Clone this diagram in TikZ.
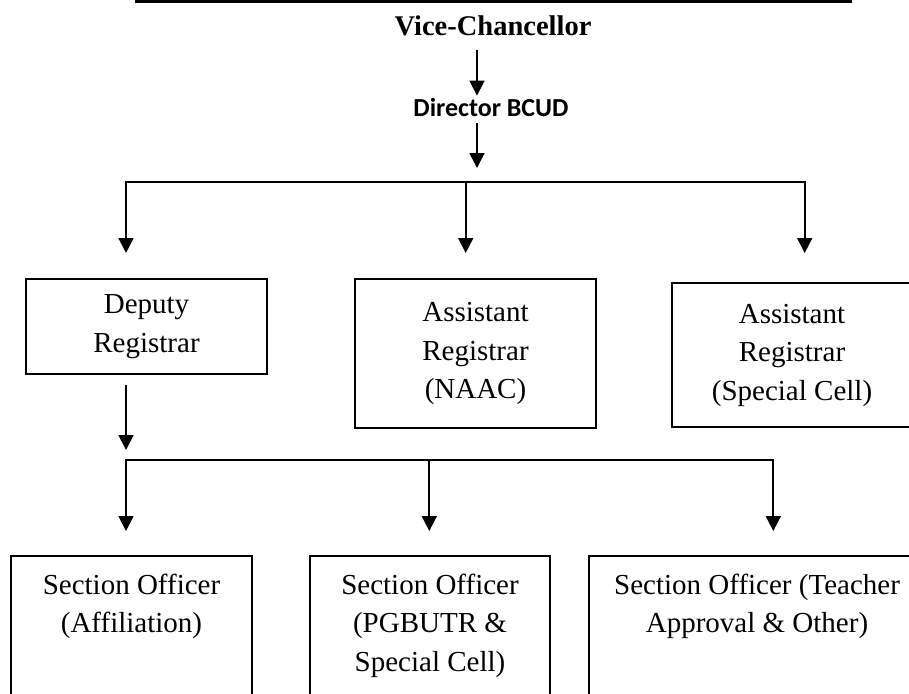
\documentclass[tikz,border=0pt]{standalone}
\usepackage{fontspec}
\setmainfont{Liberation Serif}
\newfontfamily\carl{Carlito}
\usetikzlibrary{arrows.meta,calc}
\begin{document}
\begin{tikzpicture}[x=1pt,y=-1pt,
  arr/.style={-{Triangle[width=15pt,length=15pt]}, line width=1.7pt},
  bus/.style={line width=1.7pt},
  box/.style={draw, line width=2pt, inner sep=0pt, align=center,
    font=\fontsize{29}{38.5}\selectfont},
  txt/.style={align=center, inner sep=0pt, font=\fontsize{29}{38.5}\selectfont},
]
\useasboundingbox (0,0) rectangle (909,693);
\clip (0,0) rectangle (909,693);

% top rule
\coordinate (ruleL) at (135,1.5);
\coordinate (ruleR) at (852,1.5);
\draw[line width=2.6pt] (ruleL) -- (ruleR);

% titles
\node[inner sep=0pt, anchor=base, font=\bfseries\fontsize{28.5}{34}\selectfont] (vc) at (493,36) {Vice-Chancellor};
\node[inner sep=0pt, anchor=base, font=\carl\bfseries\fontsize{26}{30}\selectfont] (dir) at (491,116) {Director BCUD};

\coordinate (ax) at (477,0);
\coordinate (dirTip) at (477,168);
\draw[arr] ($(vc.south -| ax)+(0,13)$) -- ($(dir.north -| ax)+(0,-2)$);
\draw[arr] ($(dir.south -| ax)+(0,7)$) -- (dirTip);

% upper bus
\coordinate (busL) at (126,182);
\coordinate (busM) at (465.7,182);
\coordinate (busR) at (804.7,182);
\coordinate (tipL) at (126,253);
\coordinate (tipM) at (465.7,253);
\coordinate (tipR) at (804.7,253);
\draw[arr] (busM) -- (busL) -- (tipL);
\draw[arr] (busM) -- (busR) -- (tipR);
\draw[arr] (busM) -- (tipM);

% second-level boxes
\node[box, minimum width=241pt, minimum height=95pt, anchor=north west] (dr) at (25,278) {Deputy\\Registrar};
\node[box, minimum width=241pt, minimum height=149pt, anchor=north west] (naac) at (354,278) {Assistant\\Registrar\\(NAAC)};
\node[box, minimum width=240pt, minimum height=144pt, anchor=north west] (sc) at (671,282) {Assistant\\Registrar\\(Special Cell)};

% deputy to lower bus
\coordinate (lbusL) at (126,460);
\coordinate (lbusM) at (429.3,460);
\coordinate (lbusR) at (773.3,460);
\coordinate (drTip) at (126,450);
\coordinate (ltipL) at (126,531);
\coordinate (ltipM) at (429.3,531);
\coordinate (ltipR) at (773.3,531);
\draw[arr] ($(dr.south -| lbusL)+(0,10)$) -- (drTip);
\draw[arr] (lbusM) -- (lbusL) -- (ltipL);
\draw[arr] (lbusM) -- (lbusR) -- (ltipR);
\draw[arr] (lbusM) -- (ltipM);

% bottom boxes
\node[box, minimum width=241pt, minimum height=180pt, anchor=north west] (so1) at (10,555) {};
\node[box, minimum width=240pt, minimum height=180pt, anchor=north west] (so2) at (309,555) {};
\node[box, minimum width=336pt, minimum height=180pt, anchor=north west] (so3) at (588,555) {};
\node[txt, anchor=north] (so1t) at ($(so1.north)+(0,18.5)$) {Section Officer\\(Affiliation)};
\node[txt, anchor=north] (so2t) at ($(so2.north)+(0,18.5)$) {Section Officer\\(PGBUTR \&\\Special Cell)};
\node[txt, anchor=north] (so3t) at ($(so3.north)+(0,18.5)$) {Section Officer (Teacher\\Approval \& Other)};
\end{tikzpicture}
\end{document}
